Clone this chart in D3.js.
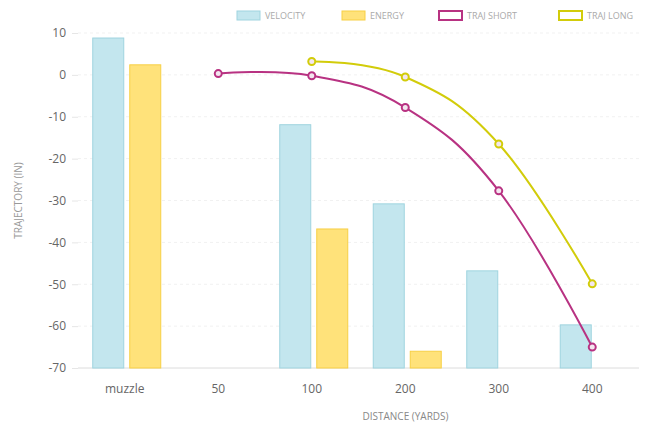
<!DOCTYPE html>
<html>
<head>
<meta charset="utf-8">
<script src="https://cdn.jsdelivr.net/npm/d3@7"></script>
<style>
  body { margin: 0; background: #fff; }
  text { font-family: "Open Sans", sans-serif; }
</style>
</head>
<body>
<div id="chart"></div>
<script>
// Data
const categories = ["muzzle", "50", "100", "200", "300", "400"];
const velocity   = [8.8, null, -11.9, -30.8, -46.8, -59.7];
const energy     = [2.4, null, -36.8, -66.0, null, null];
const trajShort  = [null, 0.3, -0.2, -7.8, -27.7, -65.0];
const trajLong   = [null, null, 3.2, -0.5, -16.5, -49.9];
const yTicks     = [10, 0, -10, -20, -30, -40, -50, -60, -70];

const W = 671, H = 428;
const margin = {left: 78, right: 32, top: 33, bottom: 60};
const innerW = W - margin.left - margin.right;
const innerH = H - margin.top - margin.bottom;

const svg = d3.select("#chart").append("svg")
    .attr("width", W)
    .attr("height", H);

const g = svg.append("g")
    .attr("transform", `translate(${margin.left},${margin.top})`);

// Scales
const x = d3.scaleBand().domain(categories).range([0, innerW]).padding(0);
const y = d3.scaleLinear().domain([-70, 10]).range([innerH, 0]);
const barW = 31, barGap = 6;

// grid
g.append("g").selectAll("line")
    .data(yTicks)
  .enter().append("line")
    .attr("x1", 0).attr("x2", innerW)
    .attr("y1", d => y(d)).attr("y2", d => y(d))
    .attr("stroke", d => d === -70 ? "#dcdcdc" : "#f1f1f1")
    .attr("stroke-dasharray", d => d === -70 ? null : "3,3");

// y axis
const yAxis = g.append("g")
    .call(d3.axisLeft(y).tickValues(yTicks).tickFormat(d => String(d)).tickSize(6).tickPadding(6));
yAxis.select(".domain").remove();
yAxis.selectAll("line").attr("stroke", "#e6e6e6");
yAxis.selectAll("text").attr("fill", "#666").style("font-size", "12px");

// x axis
const xAxis = g.append("g")
    .attr("transform", `translate(0,${innerH})`)
    .call(d3.axisBottom(x).tickSize(0).tickPadding(16));
xAxis.select(".domain").remove();
xAxis.selectAll("text").attr("fill", "#666").style("font-size", "12px");

// bars
const series = [
  {name: "velocity", values: velocity, fill: "#c3e6ee", stroke: "#9fd4df", off: 0},
  {name: "energy", values: energy, fill: "#ffe27a", stroke: "#f7cf45", off: 1}
];
series.forEach(s => {
  g.append("g").selectAll("rect")
      .data(categories.map((c, i) => ({c, v: s.values[i]})).filter(d => d.v !== null))
    .enter().append("rect")
      .attr("x", d => x(d.c) + x.bandwidth() / 2 - barW - barGap / 2 + 2 + s.off * (barW + barGap))
      .attr("y", d => y(d.v))
      .attr("width", barW)
      .attr("height", d => y(-70) - y(d.v))
      .attr("fill", s.fill)
      .attr("stroke", s.stroke)
      .attr("stroke-width", 1);
});

// lines
const lines = [
  {name: "short", values: trajShort, color: "#b83282"},
  {name: "long", values: trajLong, color: "#d2cc0a"}
];
const line = d3.line()
    .x(d => x(d.c) + x.bandwidth() / 2)
    .y(d => y(d.v))
    .curve(d3.curveCardinal.tension(-0.2));
lines.forEach(s => {
  const pts = categories.map((c, i) => ({c, v: s.values[i]})).filter(d => d.v !== null);
  g.append("path")
      .datum(pts)
      .attr("d", line)
      .attr("fill", "none")
      .attr("stroke", s.color)
      .attr("stroke-width", 2);
  g.append("g").selectAll("circle")
      .data(pts)
    .enter().append("circle")
      .attr("cx", d => x(d.c) + x.bandwidth() / 2)
      .attr("cy", d => y(d.v))
      .attr("r", 3.5)
      .attr("fill", "#f3e6ef")
      .attr("stroke", s.color)
      .attr("stroke-width", 2);
});

// axis titles
svg.append("text")
    .attr("transform", `translate(22,${margin.top + innerH / 2}) rotate(-90)`)
    .attr("text-anchor", "middle")
    .attr("fill", "#999")
    .style("font-size", "10px")
    .text("TRAJECTORY (IN)");

svg.append("text")
    .attr("x", margin.left + innerW / 2 + 47)
    .attr("y", 420)
    .attr("text-anchor", "middle")
    .attr("fill", "#888")
    .style("font-size", "10px")
    .text("DISTANCE (YARDS)");

// legend
const legend = [
  {label: "VELOCITY", fill: "#c3e6ee", stroke: "#9fd4df", x: 237},
  {label: "ENERGY", fill: "#ffe27a", stroke: "#f7cf45", x: 342},
  {label: "TRAJ SHORT", fill: "#fff", stroke: "#b83282", x: 439},
  {label: "TRAJ LONG", fill: "#fff", stroke: "#d2cc0a", x: 559}
];
const lg = svg.append("g").selectAll("g")
    .data(legend)
  .enter().append("g")
    .attr("transform", d => `translate(${d.x},11)`);
lg.append("rect")
    .attr("width", 23).attr("height", 9)
    .attr("fill", d => d.fill)
    .attr("stroke", d => d.stroke)
    .attr("stroke-width", d => d.fill === "#fff" ? 2 : 1);
lg.append("text")
    .attr("x", 28).attr("y", 8)
    .attr("fill", "#aaa")
    .style("font-size", "9px")
    .text(d => d.label);
</script>
</body>
</html>
